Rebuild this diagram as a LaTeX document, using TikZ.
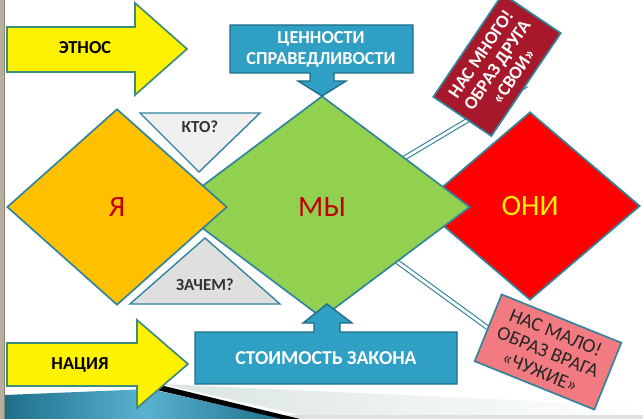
\documentclass[tikz,border=0pt]{standalone}
\usepackage{fontspec}
\setmainfont{Carlito}
\usetikzlibrary{shapes.geometric,backgrounds}

\definecolor{edgeteal}{HTML}{31849B}
\definecolor{arrowedge}{HTML}{3E8C7E}
\definecolor{calloutblue}{HTML}{2F9FC3}
\definecolor{calloutedge}{HTML}{1F6F8B}
\definecolor{yaorange}{HTML}{FFC000}
\definecolor{mygreen}{HTML}{92D050}
\definecolor{onired}{HTML}{FF0000}
\definecolor{wordred}{HTML}{C00000}
\definecolor{friendred}{HTML}{A8182B}
\definecolor{enemypink}{HTML}{F27B82}
\definecolor{slidetan}{HTML}{B8AE9E}
\definecolor{slideline}{HTML}{8C8272}

\begin{document}
\begin{tikzpicture}[x=0.025cm, y=-0.025cm,
    big/.style={diamond, draw=edgeteal, line width=1.2pt, inner sep=0pt, font=\fontsize{21}{25}\selectfont},
    callout/.style={draw=calloutedge, line width=1pt, fill=calloutblue},
    ctext/.style={text=white, align=center, font=\fontsize{13}{15}\selectfont\bfseries},
    tri/.style={draw=edgeteal, line width=1pt},
    ttext/.style={text=black!80, font=\fontsize{12}{14}\selectfont\bfseries},
    banner/.style={draw=edgeteal, line width=1.2pt, align=center, inner sep=0pt},
    link/.style={draw=edgeteal, double=white, double distance=2pt, line width=0.8pt},
    yarrow/.style={draw=arrowedge, fill=yellow, line width=1.2pt},
    atext/.style={font=\fontsize{13}{15}\selectfont\bfseries}
]
\useasboundingbox (0,0) rectangle (643,419);

\fill[slidetan] (0,0) rectangle (4,419);
\draw[slideline, line width=0.8pt] (4.5,0) -- (4.5,419);
\shade[left color=cyan!15!gray!25, right color=white] (162,384) -- (643,406) -- (643,415) -- (300,415) -- cycle;
\fill[black!12] (280,415) rectangle (643,419);
\shade[left color=calloutedge, right color=calloutedge, middle color=calloutblue!80!white] (5,395) -- (150,389) -- (285,419) -- (5,419) -- cycle;
\fill[black] (148,388) -- (160,385) -- (300,419) -- (282,419) -- cycle;

\node[big, fill=onired, text=yellow, minimum width=5.5cm, minimum height=4.7cm] (Oni) at (530,206) {ОНИ};
\node[big, fill=mygreen, text=wordred, minimum width=7.4cm, minimum height=5.55cm] (My) at (322,207) {МЫ};
\node[big, fill=yaorange, text=wordred, minimum width=5.5cm, minimum height=4.9cm] (Ya) at (117,207) {Я};

\draw[tri, fill=gray!12] (140,113) -- (260,113) -- (199,172) -- cycle;
\node[ttext] (Kto) at (200,127) {КТО?};
\draw[tri, fill=gray!25] (205,238) -- (280,304) -- (130,304) -- cycle;
\node[ttext] (Zachem) at (205,285) {ЗАЧЕМ?};

\draw[callout] (230,25) -- (413,25) -- (413,73) -- (334,73) -- (334,81) -- (346,81) -- (322,96) -- (298,81) -- (310,81) -- (310,73) -- (230,73) -- cycle;
\node[ctext] (Spravedl) at (321,49) {ЦЕННОСТИ\\СПРАВЕДЛИВОСТИ};
\draw[callout] (195,332) -- (314,332) -- (314,323) -- (303,323) -- (327,304) -- (352,323) -- (340,323) -- (340,332) -- (457,332) -- (457,384) -- (195,384) -- cycle;
\node[ctext, font=\fontsize{14}{16}\selectfont\bfseries] (Zakon) at (326,358) {СТОИМОСТЬ ЗАКОНА};

\node[banner, fill=friendred, text=white, rotate=56, minimum width=3.1cm, minimum height=1.75cm, font=\fontsize{13}{14}\selectfont\bfseries] (NasMnogo) at (497,65) {НАС МНОГО!\\ОБРАЗ ДРУГА\\«СВОИ»};
\node[banner, fill=enemypink, text=black!85, rotate=-22, minimum width=3.225cm, minimum height=1.8cm, font=\fontsize{14}{15}\selectfont] (NasMalo) at (548,352) {НАС МАЛО!\\ОБРАЗ ВРАГА\\«ЧУЖИЕ»};

\draw[yarrow] (7,27) -- (135,27) -- (135,3) -- (187,49) -- (135,95) -- (135,72) -- (7,72) -- cycle;
\node[atext] (Etnos) at (85,48) {ЭТНОС};
\draw[yarrow] (7,343) -- (137,343) -- (137,320) -- (188,364) -- (137,408) -- (137,386) -- (7,386) -- cycle;
\node[atext] (Naciya) at (80,365) {НАЦИЯ};

\begin{scope}[on background layer]
\fill[white] (0,0) rectangle (643,419);
\draw[link] (My.center) -- (NasMnogo.south);
\draw[link] (My.center) -- (NasMalo.west);
\end{scope}
\end{tikzpicture}
\end{document}
